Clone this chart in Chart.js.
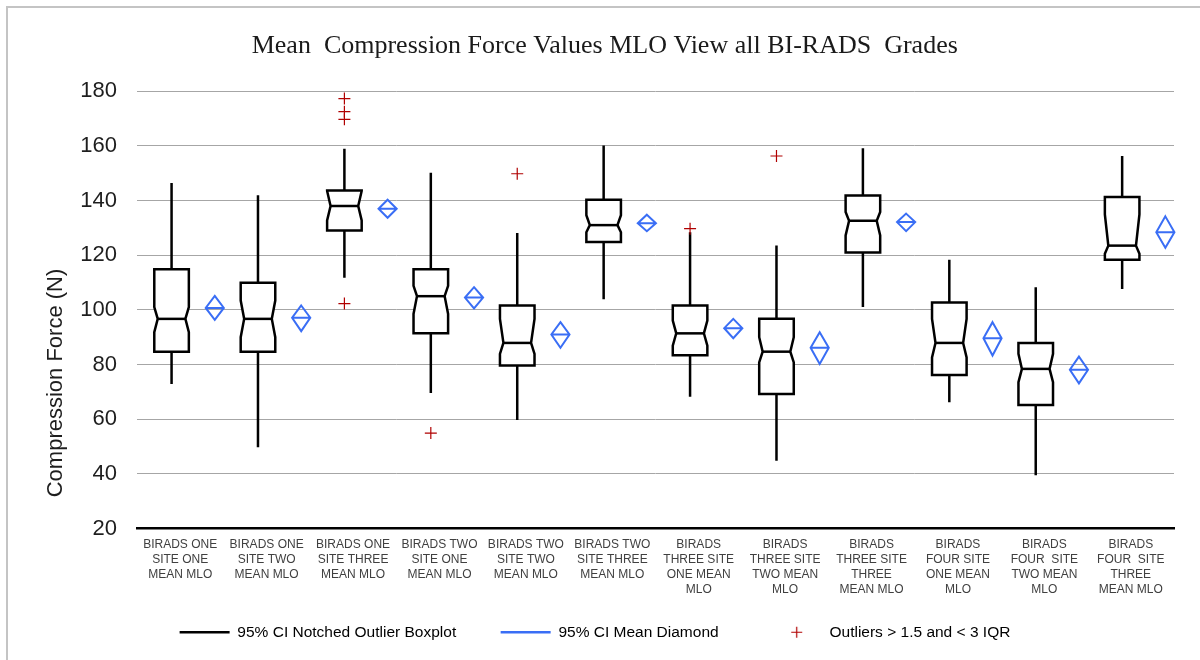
<!DOCTYPE html>
<html>
<head>
<meta charset="utf-8">
<title>Mean Compression Force Values MLO View all BI-RADS Grades</title>
<script src="https://cdn.jsdelivr.net/npm/chart.js@4.4.1/dist/chart.umd.min.js"></script>
<style>
    html, body { margin: 0; padding: 0; background: #fff; }
    #wrap { width: 1200px; height: 660px; }
</style>
</head>
<body>
<div id="wrap"><canvas id="boxChart" width="1200" height="660"></canvas></div>
<script>
// x 轴分类（每个箱线图一个）
const categories = [
    ['BIRADS ONE', 'SITE ONE', 'MEAN MLO'],
    ['BIRADS ONE', 'SITE TWO', 'MEAN MLO'],
    ['BIRADS ONE', 'SITE THREE', 'MEAN MLO'],
    ['BIRADS TWO', 'SITE ONE', 'MEAN MLO'],
    ['BIRADS TWO', 'SITE TWO', 'MEAN MLO'],
    ['BIRADS TWO', 'SITE THREE', 'MEAN MLO'],
    ['BIRADS', 'THREE SITE', 'ONE MEAN', 'MLO'],
    ['BIRADS', 'THREE SITE', 'TWO MEAN', 'MLO'],
    ['BIRADS', 'THREE SITE', 'THREE', 'MEAN MLO'],
    ['BIRADS', 'FOUR SITE', 'ONE MEAN', 'MLO'],
    ['BIRADS', 'FOUR  SITE', 'TWO MEAN', 'MLO'],
    ['BIRADS', 'FOUR  SITE', 'THREE', 'MEAN MLO']
];

// 箱线图数值 (N)
const whiskerLow  = [72.9, 49.7, 111.7, 69.6, 59.7, 103.9, 68.2, 44.8, 101.0, 66.2, 39.5, 107.6];
const q1          = [84.7, 84.7, 129.0, 91.4, 79.6, 124.8, 83.4, 69.2, 121.0, 76.2, 65.2, 118.3];
const notchLow    = [91.8, 90.0, 132.7, 98.5, 83.9, 128.4, 86.9, 80.8, 127.2, 82.6, 73.5, 120.5];
const median      = [96.7, 96.7, 138.0, 105.0, 87.9, 131.0, 91.4, 84.7, 132.6, 87.9, 78.4, 123.5];
const notchHigh   = [101.0, 103.4, 143.5, 108.8, 96.7, 134.6, 96.1, 90.0, 135.8, 96.7, 83.9, 134.9];
const q3          = [114.9, 109.9, 143.7, 114.9, 101.6, 140.3, 101.6, 96.7, 141.8, 102.7, 87.9, 141.3];
const whiskerHigh = [146.4, 141.9, 158.9, 150.2, 128.1, 160.1, 128.4, 123.5, 159.1, 118.3, 108.3, 156.3];

// 均值及其 95% CI（菱形）
const meanValue  = [100.7, 97.1, 137.0, 104.5, 91.0, 131.7, 93.3, 86.1, 132.1, 89.6, 78.1, 128.4];
const meanCiLow  = [96.3, 92.2, 133.7, 100.5, 86.1, 128.8, 89.6, 80.2, 128.8, 83.3, 73.1, 122.7];
const meanCiHigh = [105.1, 101.6, 140.3, 108.3, 95.5, 134.8, 96.7, 91.8, 135.2, 95.5, 82.9, 134.2];

// 离群值：所属分类序号（从 0 开始）和数值
const outlierGroup = [2, 2, 2, 2, 3, 4, 6, 7];
const outlierValue = [177.3, 172.5, 169.7, 102.3, 54.9, 149.8, 129.7, 156.3];

// y 轴刻度
const yMin = 20;
const yMax = 180;
const yStep = 20;

const legendTexts = ['95% CI Notched Outlier Boxplot', '95% CI Mean Diamond', 'Outliers > 1.5 and < 3 IQR'];

// 样式（分类宽度的比例）
const BOX_SHIFT = -0.1;
const BOX_HALF = 0.2;
const NOTCH_INSET = 0.04;
const DIAMOND_SHIFT = 0.4;
const DIAMOND_HALF = 0.105;
const BLUE = '#3a6ef5';
const RED = '#b00000';

// 图例里的红色十字（小画布当作 pointStyle）
const crossIcon = document.createElement('canvas');
crossIcon.width = 13;
crossIcon.height = 13;
(function () {
    const c = crossIcon.getContext('2d');
    c.strokeStyle = RED;
    c.lineWidth = 1.2;
    c.beginPath();
    c.moveTo(6.5, 1);
    c.lineTo(6.5, 12);
    c.moveTo(1, 6.5);
    c.lineTo(12, 6.5);
    c.stroke();
})();

// 外框
const framePlugin = {
    id: 'frame',
    beforeDraw(chart) {
        const ctx = chart.ctx;
        ctx.save();
        ctx.strokeStyle = '#c4c4c4';
        ctx.lineWidth = 2;
        ctx.beginPath();
        ctx.moveTo(7, chart.height + 2);
        ctx.lineTo(7, 7);
        ctx.lineTo(chart.width + 2, 7);
        ctx.stroke();
        ctx.restore();
    }
};

// y 轴标题（位置偏下，手动绘制）
const yTitlePlugin = {
    id: 'yTitle',
    afterDraw(chart) {
        const ctx = chart.ctx;
        ctx.save();
        ctx.translate(56, 383);
        ctx.rotate(-Math.PI / 2);
        ctx.font = '22px "Liberation Sans", Arial, sans-serif';
        ctx.fillStyle = '#1e1e1e';
        ctx.textAlign = 'center';
        ctx.textBaseline = 'middle';
        ctx.fillText('Compression Force (N)', 0, 0);
        ctx.restore();
    }
};

// 缺口箱线图 + 均值菱形
const boxPlotPlugin = {
    id: 'notchedBoxes',
    beforeDatasetsDraw(chart) {
        const { ctx, scales: { x, y } } = chart;
        const unit = x.getPixelForValue(2) - x.getPixelForValue(1);
        const hw = unit * BOX_HALF;
        const inset = unit * NOTCH_INSET;
        const dw = unit * DIAMOND_HALF;

        ctx.save();
        ctx.lineJoin = 'miter';
        categories.forEach((c, i) => {
            const cx = x.getPixelForValue(i + 1 + BOX_SHIFT);
            const yLo = y.getPixelForValue(whiskerLow[i]);
            const yQ1 = y.getPixelForValue(q1[i]);
            const yNl = y.getPixelForValue(Math.max(notchLow[i], q1[i]));
            const yMd = y.getPixelForValue(median[i]);
            const yNh = y.getPixelForValue(Math.min(notchHigh[i], q3[i]));
            const yQ3 = y.getPixelForValue(q3[i]);
            const yHi = y.getPixelForValue(whiskerHigh[i]);

            ctx.strokeStyle = '#000';
            ctx.lineWidth = 2.5;

            // 须线
            ctx.beginPath();
            ctx.moveTo(cx, yQ3);
            ctx.lineTo(cx, yHi);
            ctx.moveTo(cx, yQ1);
            ctx.lineTo(cx, yLo);
            ctx.stroke();

            // 箱体
            ctx.beginPath();
            ctx.moveTo(cx - hw, yQ3);
            ctx.lineTo(cx + hw, yQ3);
            ctx.lineTo(cx + hw, yNh);
            ctx.lineTo(cx + hw - inset, yMd);
            ctx.lineTo(cx + hw, yNl);
            ctx.lineTo(cx + hw, yQ1);
            ctx.lineTo(cx - hw, yQ1);
            ctx.lineTo(cx - hw, yNl);
            ctx.lineTo(cx - hw + inset, yMd);
            ctx.lineTo(cx - hw, yNh);
            ctx.closePath();
            ctx.fillStyle = '#fff';
            ctx.fill();
            ctx.stroke();

            // 中位数
            ctx.beginPath();
            ctx.moveTo(cx - hw + inset, yMd);
            ctx.lineTo(cx + hw - inset, yMd);
            ctx.stroke();

            // 均值菱形
            const dx = x.getPixelForValue(i + 1 + DIAMOND_SHIFT);
            const yM = y.getPixelForValue(meanValue[i]);
            const yCl = y.getPixelForValue(meanCiLow[i]);
            const yCh = y.getPixelForValue(meanCiHigh[i]);
            ctx.strokeStyle = BLUE;
            ctx.lineWidth = 2;
            ctx.beginPath();
            ctx.moveTo(dx, yCh);
            ctx.lineTo(dx + dw, yM);
            ctx.lineTo(dx, yCl);
            ctx.lineTo(dx - dw, yM);
            ctx.closePath();
            ctx.moveTo(dx - dw, yM);
            ctx.lineTo(dx + dw, yM);
            ctx.stroke();
        });
        ctx.restore();
    }
};

const outlierPoints = outlierValue.map((v, k) => ({ x: outlierGroup[k] + 1 + BOX_SHIFT, y: v }));

const ctx = document.getElementById('boxChart').getContext('2d');
new Chart(ctx, {
    type: 'scatter',
    data: {
        datasets: [{
            label: legendTexts[2],
            data: outlierPoints,
            pointStyle: 'cross',
            pointRadius: 6,
            borderColor: RED,
            borderWidth: 1.2,
            backgroundColor: RED
        }]
    },
    options: {
        responsive: false,
        animation: false,
        layout: { padding: { top: 7, left: 16, right: 26, bottom: 10 } },
        scales: {
            x: {
                type: 'linear',
                min: 0.5,
                max: categories.length + 0.5,
                afterBuildTicks: (scale) => {
                    scale.ticks = categories.map((c, i) => ({ value: i + 1 }));
                },
                afterFit: (scale) => {
                    scale.height += 8;
                },
                ticks: {
                    callback: (v) => categories[Math.round(v) - 1],
                    autoSkip: false,
                    maxRotation: 0,
                    minRotation: 0,
                    padding: 9,
                    color: '#404040',
                    font: { family: '"Liberation Sans", Arial, sans-serif', size: 12, lineHeight: 1.25 }
                },
                grid: { display: true, drawOnChartArea: false, drawTicks: false },
                border: { display: true, color: '#000', width: 2.5 }
            },
            y: {
                min: yMin,
                max: yMax,
                afterFit: (scale) => {
                    scale.width = 121;
                },
                ticks: {
                    stepSize: yStep,
                    padding: 20,
                    color: '#1e1e1e',
                    font: { family: '"Liberation Sans", Arial, sans-serif', size: 22 }
                },
                grid: { color: '#a6a6a6', lineWidth: 1, drawTicks: false },
                border: { display: false }
            }
        },
        plugins: {
            title: {
                display: true,
                text: '   Mean  Compression Force Values MLO View all BI-RADS  Grades',
                color: '#1a1a1a',
                font: { family: '"Liberation Serif", "Times New Roman", serif', size: 26, weight: 'normal', lineHeight: 1.2 },
                padding: { top: 24, bottom: 29 }
            },
            legend: {
                position: 'bottom',
                labels: {
                    usePointStyle: true,
                    pointStyleWidth: 50,
                    boxHeight: 7,
                    padding: 10,
                    color: '#262626',
                    font: { family: '"Liberation Sans", Arial, sans-serif', size: 15.5 },
                    generateLabels: () => [
                        { text: legendTexts[0] + '        ', strokeStyle: '#000', fillStyle: '#000', lineWidth: 2.5, pointStyle: 'line', hidden: false, datasetIndex: 0 },
                        { text: legendTexts[1] + '          ', strokeStyle: BLUE, fillStyle: BLUE, lineWidth: 2.5, pointStyle: 'line', hidden: false, datasetIndex: 0 },
                        { text: legendTexts[2], strokeStyle: RED, fillStyle: RED, lineWidth: 1.2, pointStyle: crossIcon, hidden: false, datasetIndex: 0 }
                    ]
                }
            },
            tooltip: { enabled: false }
        }
    },
    plugins: [framePlugin, boxPlotPlugin, yTitlePlugin]
});
</script>
</body>
</html>
